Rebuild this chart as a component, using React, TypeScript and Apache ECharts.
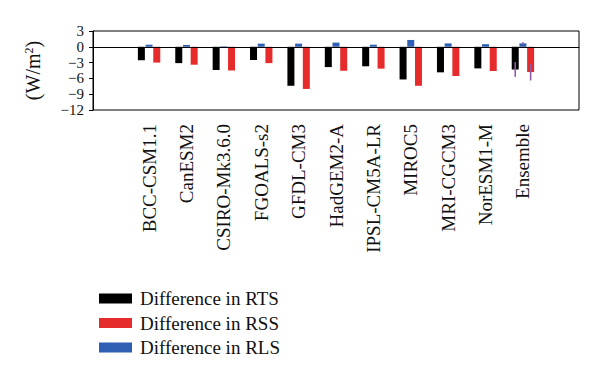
import React, { useEffect, useRef } from "react";
import * as echarts from "echarts";

const models = [
  "BCC-CSM1.1", "CanESM2", "CSIRO-Mk3.6.0", "FGOALS-s2", "GFDL-CM3",
  "HadGEM2-A", "IPSL-CM5A-LR", "MIROC5", "MRI-CGCM3", "NorESM1-M", "Ensemble",
];
const rts = [-2.55, -3.1, -4.4, -2.5, -7.4, -3.85, -3.7, -6.2, -4.85, -4.1, -4.3];
const rss = [-3.0, -3.4, -4.5, -3.1, -8.0, -4.55, -4.15, -7.4, -5.55, -4.6, -4.8];
const rls = [0.4, 0.35, 0.1, 0.6, 0.6, 0.8, 0.4, 1.3, 0.65, 0.5, 0.65];
// ensemble spread (low, high) for RTS, RLS, RSS
const errRts = [-2.9, -5.7];
const errRls = [0.45, 0.85];
const errRss = [-3.3, -6.4];
const yTicks = { min: -12, max: 3, interval: 3 };

const BAR_W = 7;
const GAP = 0.1;
const SERIF = "'Liberation Serif', 'DejaVu Serif', serif";

export default function App() {
  const ref = useRef<HTMLDivElement>(null);
  useEffect(() => {
    if (!ref.current) return;
    const chart = echarts.init(ref.current, null, { renderer: "svg" });
    const cats = ["", ...models, ""];
    const pad = (a: number[]) => [null, ...a, null];
    const ensIdx = models.indexOf("Ensemble") + 1;
    const step = BAR_W * (1 + GAP);
    const errData = [
      [ensIdx, errRts[0], errRts[1], -1],
      [ensIdx, errRls[0], errRls[1], 0],
      [ensIdx, errRss[0], errRss[1], 1],
    ];
    chart.setOption({
      animation: false,
      grid: {
        left: 93, right: 21, top: 31, bottom: 270,
        show: true, borderColor: "#000", borderWidth: 1,
      },
      legend: {
        data: ["Difference in RTS", "Difference in RSS", "Difference in RLS"],
        orient: "vertical",
        left: 94,
        top: 284,
        icon: "rect",
        itemWidth: 33,
        itemHeight: 10,
        itemGap: 5.5,
        textStyle: { fontFamily: SERIF, fontSize: 19, color: "#111", padding: [0, 0, 0, 3] },
      },
      xAxis: {
        type: "category",
        data: cats,
        axisLine: { lineStyle: { color: "#000", width: 1 } },
        axisTick: {
          alignWithLabel: true,
          length: 6,
          lineStyle: { color: "#000" },
          interval: (i: number, v: string) => v !== "",
        },
        axisLabel: {
          interval: 0,
          rotate: 90,
          margin: 14,
          fontFamily: SERIF,
          fontSize: 19,
          color: "#111",
        },
      },
      yAxis: {
        type: "value",
        min: yTicks.min,
        max: yTicks.max,
        interval: yTicks.interval,
        name: "(W/m{sup|2})",
        nameLocation: "middle",
        nameRotate: 90,
        nameGap: 50,
        nameTextStyle: {
          fontFamily: SERIF,
          fontSize: 20,
          color: "#111",
          rich: { sup: { fontFamily: SERIF, fontSize: 12, verticalAlign: "top", padding: [0, 0, 8, 0], color: "#111" } },
        },
        axisLine: { show: true, lineStyle: { color: "#000", width: 1 } },
        axisTick: { show: true, length: 4, lineStyle: { color: "#000" } },
        splitLine: { show: false },
        axisLabel: {
          fontFamily: SERIF,
          fontSize: 15,
          lineHeight: 12,
          color: "#111",
          margin: 9,
          showMinLabel: true,
          showMaxLabel: true,
          hideOverlap: false,
          formatter: (v: number) => (v < 0 ? "\u2212" + Math.abs(v) : String(v)),
        },
      },
      series: [
        {
          name: "Difference in RTS",
          type: "bar",
          data: pad(rts),
          barWidth: BAR_W,
          barGap: GAP * 100 + "%",
          itemStyle: { color: "#000000" },
          markLine: {
            silent: true,
            symbol: "none",
            label: { show: false },
            lineStyle: { color: "#000", type: "solid", width: 1.2 },
            data: [{ yAxis: 0 }],
          },
        },
        {
          name: "Difference in RLS",
          type: "bar",
          data: pad(rls),
          barWidth: BAR_W,
          barGap: GAP * 100 + "%",
          itemStyle: { color: "#2f5fb3" },
        },
        {
          name: "Difference in RSS",
          type: "bar",
          data: pad(rss),
          barWidth: BAR_W,
          barGap: GAP * 100 + "%",
          itemStyle: { color: "#e52b2b" },
        },
        {
          type: "custom",
          z: 5,
          data: errData,
          renderItem: (params: any, api: any) => {
            const c = api.value(0);
            const p1 = api.coord([c, api.value(1)]);
            const p2 = api.coord([c, api.value(2)]);
            const x = p1[0] + api.value(3) * step;
            return {
              type: "line",
              shape: { x1: x, y1: p1[1], x2: x, y2: p2[1] },
              style: { stroke: "#8e5aa8", lineWidth: 1.6 },
            };
          },
        },
      ],
    });
    return () => chart.dispose();
  }, []);
  return (
    <div
      ref={ref}
      style={{ position: "absolute", left: 0, top: 0, width: 600, height: 380 }}
    />
  );
}
